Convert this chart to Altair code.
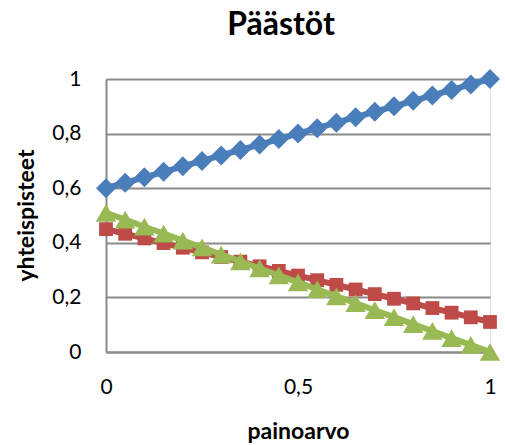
import altair as alt
import pandas as pd

x_vals = [0, 0.05, 0.1, 0.15, 0.2, 0.25, 0.3, 0.35, 0.4, 0.45, 0.5,
          0.55, 0.6, 0.65, 0.7, 0.75, 0.8, 0.85, 0.9, 0.95, 1]
blue_vals = [0.60, 0.62, 0.64, 0.66, 0.68, 0.70, 0.72, 0.74, 0.76, 0.78, 0.80,
             0.82, 0.84, 0.86, 0.88, 0.90, 0.92, 0.94, 0.96, 0.98, 1.00]
red_vals = [0.450, 0.433, 0.416, 0.399, 0.382, 0.365, 0.348, 0.331, 0.314, 0.297, 0.280,
            0.263, 0.246, 0.229, 0.212, 0.195, 0.178, 0.161, 0.144, 0.127, 0.110]
green_vals = [0.510, 0.485, 0.459, 0.434, 0.408, 0.383, 0.357, 0.332, 0.306, 0.281, 0.255,
              0.230, 0.204, 0.179, 0.153, 0.128, 0.102, 0.077, 0.051, 0.026, 0.000]

series = [
    ("A", blue_vals, "#4A7EBB", "diamond", 400),
    ("B", red_vals, "#BE4B48", "square", 190),
    ("C", green_vals, "#98B954", "triangle-up", 420),
]

FONT = "Lato"
GRID = "#8a8a8a"

xs = alt.X("x:Q", scale=alt.Scale(domain=[0, 1], nice=False),
           axis=alt.Axis(values=[0, 0.5, 1], title="painoarvo", grid=False, ticks=False,
                         domainColor=GRID, domainWidth=2,
                         labelExpr="replace(format(datum.value, '.1~f'), '.', ',')",
                         labelFont=FONT, labelFontSize=21, labelColor="#000000",
                         labelPadding=24, labelFlush=False,
                         titleFont=FONT, titleFontSize=23, titleFontWeight="bold",
                         titleColor="#000000", titleX=192, titleY=86,
                         titleBaseline="alphabetic", titleAlign="center"))
ys = alt.Y("y:Q", scale=alt.Scale(domain=[0, 1], nice=False),
           axis=alt.Axis(values=[0, 0.2, 0.4, 0.6, 0.8, 1], title="yhteispisteet",
                         grid=True, gridColor=GRID, gridWidth=2, ticks=False,
                         domainColor=GRID, domainWidth=2,
                         labelExpr="replace(format(datum.value, '.1~f'), '.', ',')",
                         labelFont=FONT, labelFontSize=21, labelColor="#000000",
                         labelPadding=25, labelFlush=False,
                         titleFont=FONT, titleFontSize=23, titleFontWeight="bold",
                         titleColor="#000000", titleX=-80, titleY=136, titleAngle=270,
                         titleAlign="center", titleBaseline="middle"))

layers = []
for i, (name, vals, color, shape, size) in enumerate(series):
    df = pd.DataFrame({"x": x_vals, "y": vals, "s": name})
    if i == 0:
        xe, ye = xs, ys
    else:
        xe, ye = alt.X("x:Q"), alt.Y("y:Q")
    line = alt.Chart(df).mark_line(color=color, strokeWidth=6).encode(x=xe, y=ye)
    pts = alt.Chart(df).mark_point(shape=shape, filled=True, color=color, size=size,
                                   opacity=1).encode(x=alt.X("x:Q"), y=alt.Y("y:Q"))
    layers += [line, pts]

chart = alt.layer(*layers).properties(
    width=384, height=273,
    title=alt.TitleParams("Päästöt", font=FONT, fontSize=32, fontWeight="bold",
                          color="#000000", anchor="middle", dx=-17, offset=25),
    autosize=alt.AutoSizeParams(type="none"),
    padding={"left": 106, "top": 79, "right": 15, "bottom": 93},
).configure_view(stroke=None).configure(background="white")

chart.save("out.html", embed_options={"renderer": "svg", "actions": False})
